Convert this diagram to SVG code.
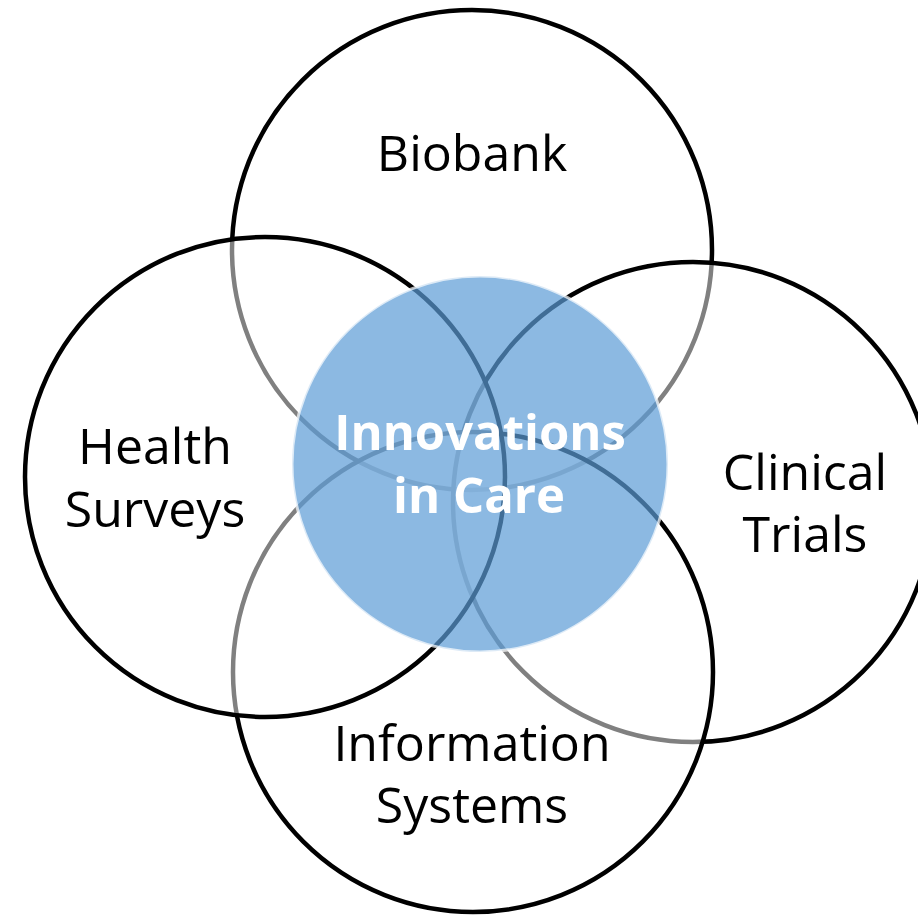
<svg xmlns="http://www.w3.org/2000/svg" width="918" height="920" viewBox="0 0 918 920">
<style>
.ring{fill:#ffffff;fill-opacity:0.5;stroke:#000;stroke-width:4.5}
.lbl{font-family:"Open Sans","Noto Sans",sans-serif;font-size:50px;fill:#000;text-anchor:middle}
.ctr{font-family:"Open Sans","Noto Sans",sans-serif;font-size:49px;font-weight:bold;fill:#fff;text-anchor:middle}
</style>
<rect width="918" height="920" fill="#fff"/>
<g id="biobank">
<circle class="ring" cx="472" cy="250" r="240"/>
<text class="lbl" x="472" y="171">Biobank</text>
</g>
<g id="clinical-trials">
<circle class="ring" cx="693" cy="502" r="240"/>
<text class="lbl" x="805" y="490">Clinical</text>
<text class="lbl" x="805" y="552">Trials</text>
</g>
<g id="information-systems">
<circle class="ring" cx="473" cy="672" r="240"/>
<text class="lbl" x="472" y="761">Information</text>
<text class="lbl" x="472" y="823">Systems</text>
</g>
<g id="health-surveys">
<circle class="ring" cx="265" cy="477" r="240"/>
<text class="lbl" x="155" y="464">Health</text>
<text class="lbl" x="155" y="527">Surveys</text>
</g>
<g id="innovations-in-care">
<circle cx="480" cy="464" r="188" fill="#5B9BD5" fill-opacity="0.7" stroke="#fff" stroke-opacity="0.7" stroke-width="3"/>
<text class="ctr" x="480" y="450">Innovations</text>
<text class="ctr" x="479" y="513">in Care</text>
</g>
<g id="connectors"/>
</svg>
